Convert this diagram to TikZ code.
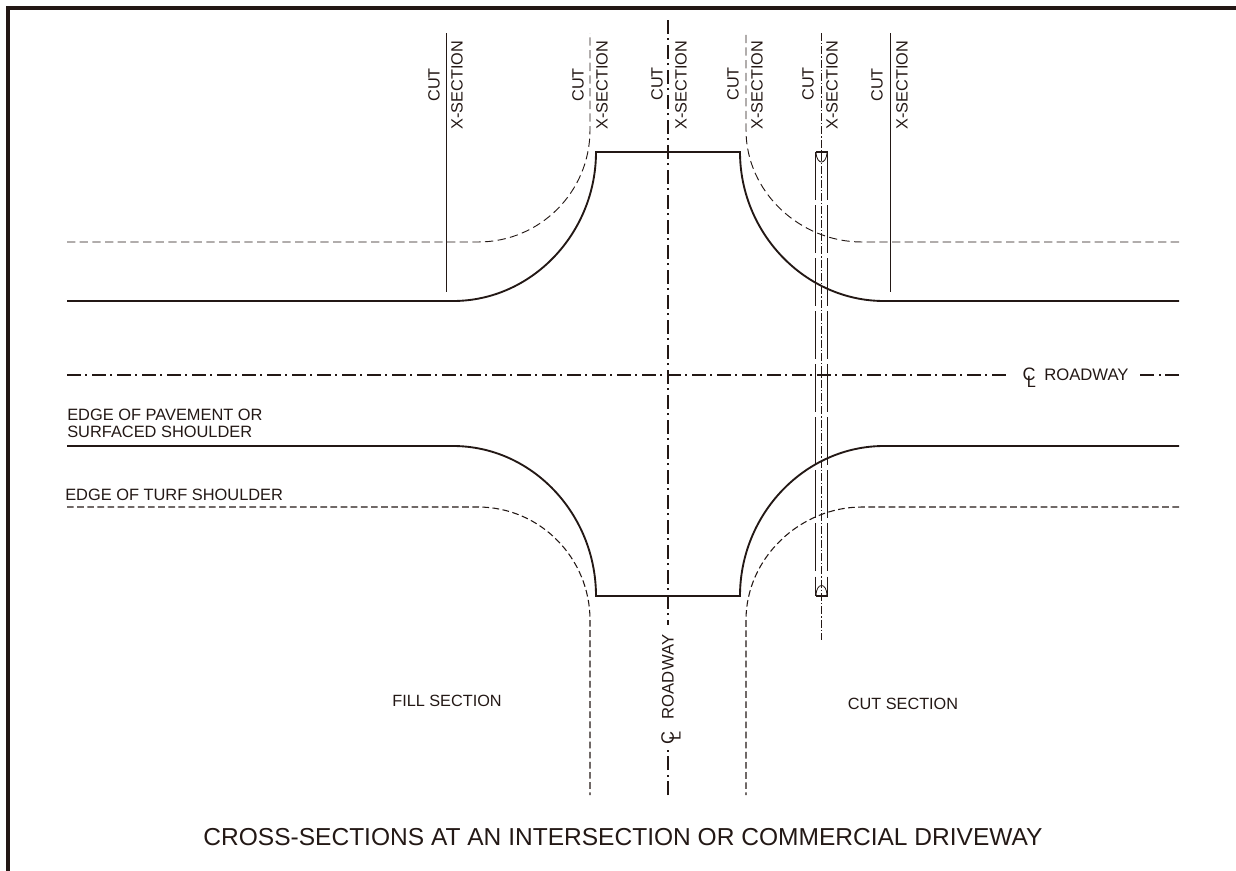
\documentclass[tikz,border=0pt]{standalone}
\usepackage{fontspec}
\setmainfont{Liberation Sans}
\definecolor{ink}{HTML}{231815}
\newcommand{\clsym}{\makebox[0pt]{\fontsize{13.5pt}{14pt}\selectfont C}\raisebox{-0.42em}{\makebox[0pt]{\hspace{0.3em}L}}}
\tikzset{
  solidedge/.style={draw=ink,line width=1.4pt},
  turfedge/.style={draw=ink,line width=0.7pt,dash pattern=on 6.2pt off 3.3pt},
  turfbold/.style={draw=ink,line width=0.8pt,dash pattern=on 5pt off 2.6pt},
  cutline/.style={draw=ink,line width=0.7pt},
  center line/.style={draw=ink,line width=0.95pt,dash pattern=on 10.5pt off 3.2pt on 1.5pt off 3.55pt},
  fine center/.style={draw=ink,line width=0.5pt,dash pattern=on 6pt off 1.5pt on 1pt off 1.5pt},
  strip/.style={draw=ink,line width=0.85pt,dash pattern=on 36pt off 3.8pt},
  lbl/.style={inner sep=0pt,text=ink,font=\fontsize{12.2pt}{14pt}\selectfont},
  edgelbl/.style={inner sep=0pt,text=ink,anchor=west,font=\fontsize{12.3pt}{14pt}\selectfont},
  vcut/.style={lbl,rotate=90,anchor=east},
  vsec/.style={lbl,rotate=90}
}
\begin{document}
\begin{tikzpicture}[x=0.75pt,y=-0.75pt]
\useasboundingbox (0,0) rectangle (1236,871);
% frame
\draw[ink,line width=2.4pt] (8,871) -- (8,8) -- (1236,8);
% solid pavement edges
\draw[solidedge] (67,301) -- (453,301) .. controls (532,301) and (596,233) .. (596,152) -- (740,152) .. controls (740,233) and (805,301) .. (884,301) -- (1179,301);
\draw[solidedge] (67,446) -- (453,446) .. controls (532,446) and (596,514) .. (596,596) -- (740,596) .. controls (740,514) and (805,446) .. (884,446) -- (1179,446);
% dashed shoulders
\draw[turfedge] (67,242) -- (478,242) .. controls (540,242) and (590,192) .. (590,130) -- (590,33);
\draw[turfedge] (1179,242) -- (862,242) .. controls (800,242) and (746,192) .. (746,130) -- (746,33);
\draw[turfbold] (67,507) -- (478,507) .. controls (540,507) and (590,558) .. (590,620) -- (590,795);
\draw[turfbold] (1179,507) -- (862,507) .. controls (800,507) and (746,558) .. (746,620) -- (746,795);
% cut lines
\draw[cutline] (446,33) -- (446,292);
\draw[cutline] (890,33) -- (890,292);
% center lines
\draw[center line] (668,20) -- (668,625);
\draw[center line] (668,795) -- (668,747);
\draw[center line] (67,375) -- (1010,375);
\draw[center line] (1179,375) -- (1140,375);
\draw[fine center] (821.5,33) -- (821.5,640);
% strip
\draw[strip] (815.5,152) -- (815.5,596);
\draw[strip] (827.5,152) -- (827.5,596);
\draw[draw=ink,line width=0.8pt] (815.5,152) -- (827.5,152) (815.5,596) -- (827.5,596);
\draw[draw=ink,line width=0.6pt] (816,153) .. controls (817,165) and (826,165) .. (827,153);
\draw[draw=ink,line width=0.6pt] (816,596) .. controls (816,582) and (827,582) .. (827,596);
% vertical labels
\node[vcut] (c1) at (434,68) {CUT};
\node[vcut] (c2) at (578,68) {CUT};
\node[vcut] (c3) at (657,67) {CUT};
\node[vcut] (c4) at (733,67) {CUT};
\node[vcut] (c5) at (808,67) {CUT};
\node[vcut] (c6) at (877,68) {CUT};
\node[vsec] (x1) at (457,85) {X-SECTION};
\node[vsec] (x2) at (602,85) {X-SECTION};
\node[vsec] (x3) at (681,85) {X-SECTION};
\node[vsec] (x4) at (757,85) {X-SECTION};
\node[vsec] (x5) at (832,85) {X-SECTION};
\node[vsec] (x6) at (902,85) {X-SECTION};
% other labels
\node[edgelbl] (e1) at (67,415) {EDGE OF PAVEMENT OR};
\node[edgelbl] (e2) at (67,432) {SURFACED SHOULDER};
\node[edgelbl] (e3) at (65,495) {EDGE OF TURF SHOULDER};
\node[lbl] (fill) at (447,701) {FILL SECTION};
\node[lbl] (cutsec) at (903,704) {CUT SECTION};
\node[lbl,anchor=west,font=\fontsize{12.5pt}{14pt}\selectfont] (road) at (1044,375) {ROADWAY};
\node[lbl] (clh) at (1029,378) {\clsym};
\node[lbl,rotate=90,font=\fontsize{12.5pt}{14pt}\selectfont] (roadv) at (668,677) {ROADWAY};
\node[lbl,rotate=90] (clv) at (671,738) {\clsym};
\node[inner sep=0pt,text=ink,font=\fontsize{18.4pt}{20pt}\selectfont] (title) at (623,837) {CROSS-SECTIONS AT AN INTERSECTION OR COMMERCIAL DRIVEWAY};
\end{tikzpicture}
\end{document}
